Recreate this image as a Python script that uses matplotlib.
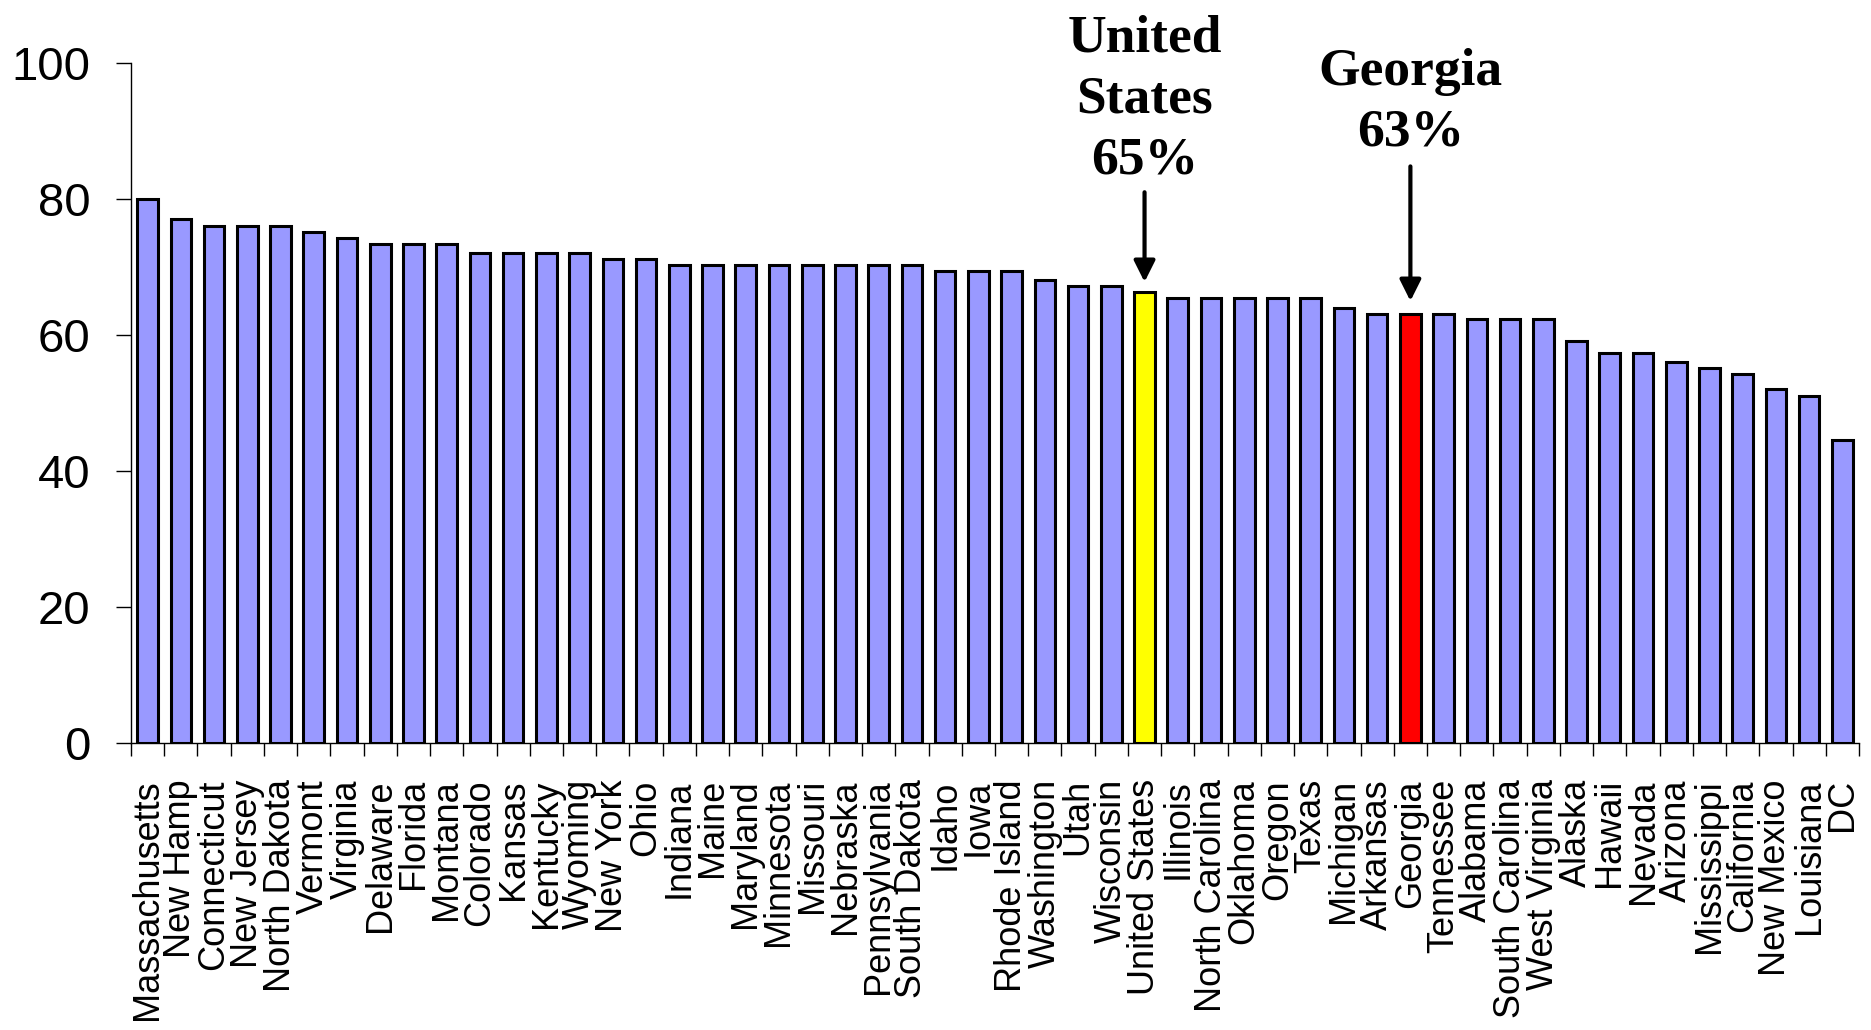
import numpy as np
import matplotlib
matplotlib.use("Agg")
import matplotlib.pyplot as plt

states = ['Massachusetts', 'New Hamp', 'Connecticut', 'New Jersey', 'North Dakota',
          'Vermont', 'Virginia', 'Delaware', 'Florida', 'Montana', 'Colorado',
          'Kansas', 'Kentucky', 'Wyoming', 'New York', 'Ohio', 'Indiana', 'Maine',
          'Maryland', 'Minnesota', 'Missouri', 'Nebraska', 'Pennsylvania',
          'South Dakota', 'Idaho', 'Iowa', 'Rhode Island', 'Washington', 'Utah',
          'Wisconsin', 'United States', 'Illinois', 'North Carolina', 'Oklahoma',
          'Oregon', 'Texas', 'Michigan', 'Arkansas', 'Georgia', 'Tennessee',
          'Alabama', 'South Carolina', 'West Virginia', 'Alaska', 'Hawaii',
          'Nevada', 'Arizona', 'Mississippi', 'California', 'New Mexico',
          'Louisiana', 'DC']
values = [80.0, 77.0, 76.1, 76.1, 76.1, 75.2, 74.3, 73.4, 73.4, 73.4, 72.1,
          72.1, 72.1, 72.1, 71.2, 71.2, 70.3, 70.3, 70.3, 70.3, 70.3, 70.3, 70.3,
          70.3, 69.4, 69.4, 69.4, 68.1, 67.2, 67.2, 66.3, 65.4, 65.4, 65.4, 65.4,
          65.4, 64.0, 63.1, 63.1, 63.1, 62.3, 62.3, 62.3, 59.1, 57.4, 57.4, 56.0,
          55.1, 54.2, 52.0, 51.1, 44.5]
highlight = {'United States': '#FFFF00', 'Georgia': '#FF0000'}
callouts = [('United States', 'United\nStates\n65%'), ('Georgia', 'Georgia\n63%')]

fig = plt.figure(figsize=(18.71, 10.30), dpi=100)
ax = fig.add_axes([0.070, 0.2786, 0.9236, 0.6602])

x = np.arange(len(states))
colors = [highlight.get(s, '#9999FF') for s in states]
ax.bar(x, values, width=0.62, color=colors, edgecolor='black', linewidth=2.2)

ax.set_xlim(-0.5, len(states) - 0.5)
ax.set_ylim(0, 100)
ax.set_yticks([0, 20, 40, 60, 80, 100])
ax.tick_params(axis='y', labelsize=34, length=11, width=1, pad=18,
               labelfontfamily='Liberation Sans')

ax.set_xticks(x)
ax.set_xticklabels(states, rotation=90, fontsize=26, family='Liberation Sans')
ax.tick_params(axis='x', which='major', length=0, pad=26)
ax.set_xticks(np.arange(len(states) + 1) - 0.5, minor=True)
ax.tick_params(axis='x', which='minor', length=9, width=1, direction='out')

for side in ['top', 'right']:
    ax.spines[side].set_visible(False)
ax.spines['left'].set_linewidth(1)
ax.spines['bottom'].set_linewidth(1)

# arrows + labels for the two highlighted bars
arrow_y = {'United States': (81.0, 67.8), 'Georgia': (84.8, 65.0)}
text_y = {'United States': 82.2, 'Georgia': 86.2}
for name, label in callouts:
    i = states.index(name)
    y0, y1 = arrow_y[name]
    ax.annotate('', xy=(i, y1), xytext=(i, y0),
                arrowprops=dict(arrowstyle='-|>', lw=3, color='black',
                                mutation_scale=32, shrinkA=0, shrinkB=0),
                annotation_clip=False)
    ax.text(i, text_y[name], label, ha='center', va='bottom', fontsize=38.5,
            fontweight='bold', family='Liberation Serif', linespacing=1.35,
            clip_on=False)

fig.savefig('out.png', dpi=100)
